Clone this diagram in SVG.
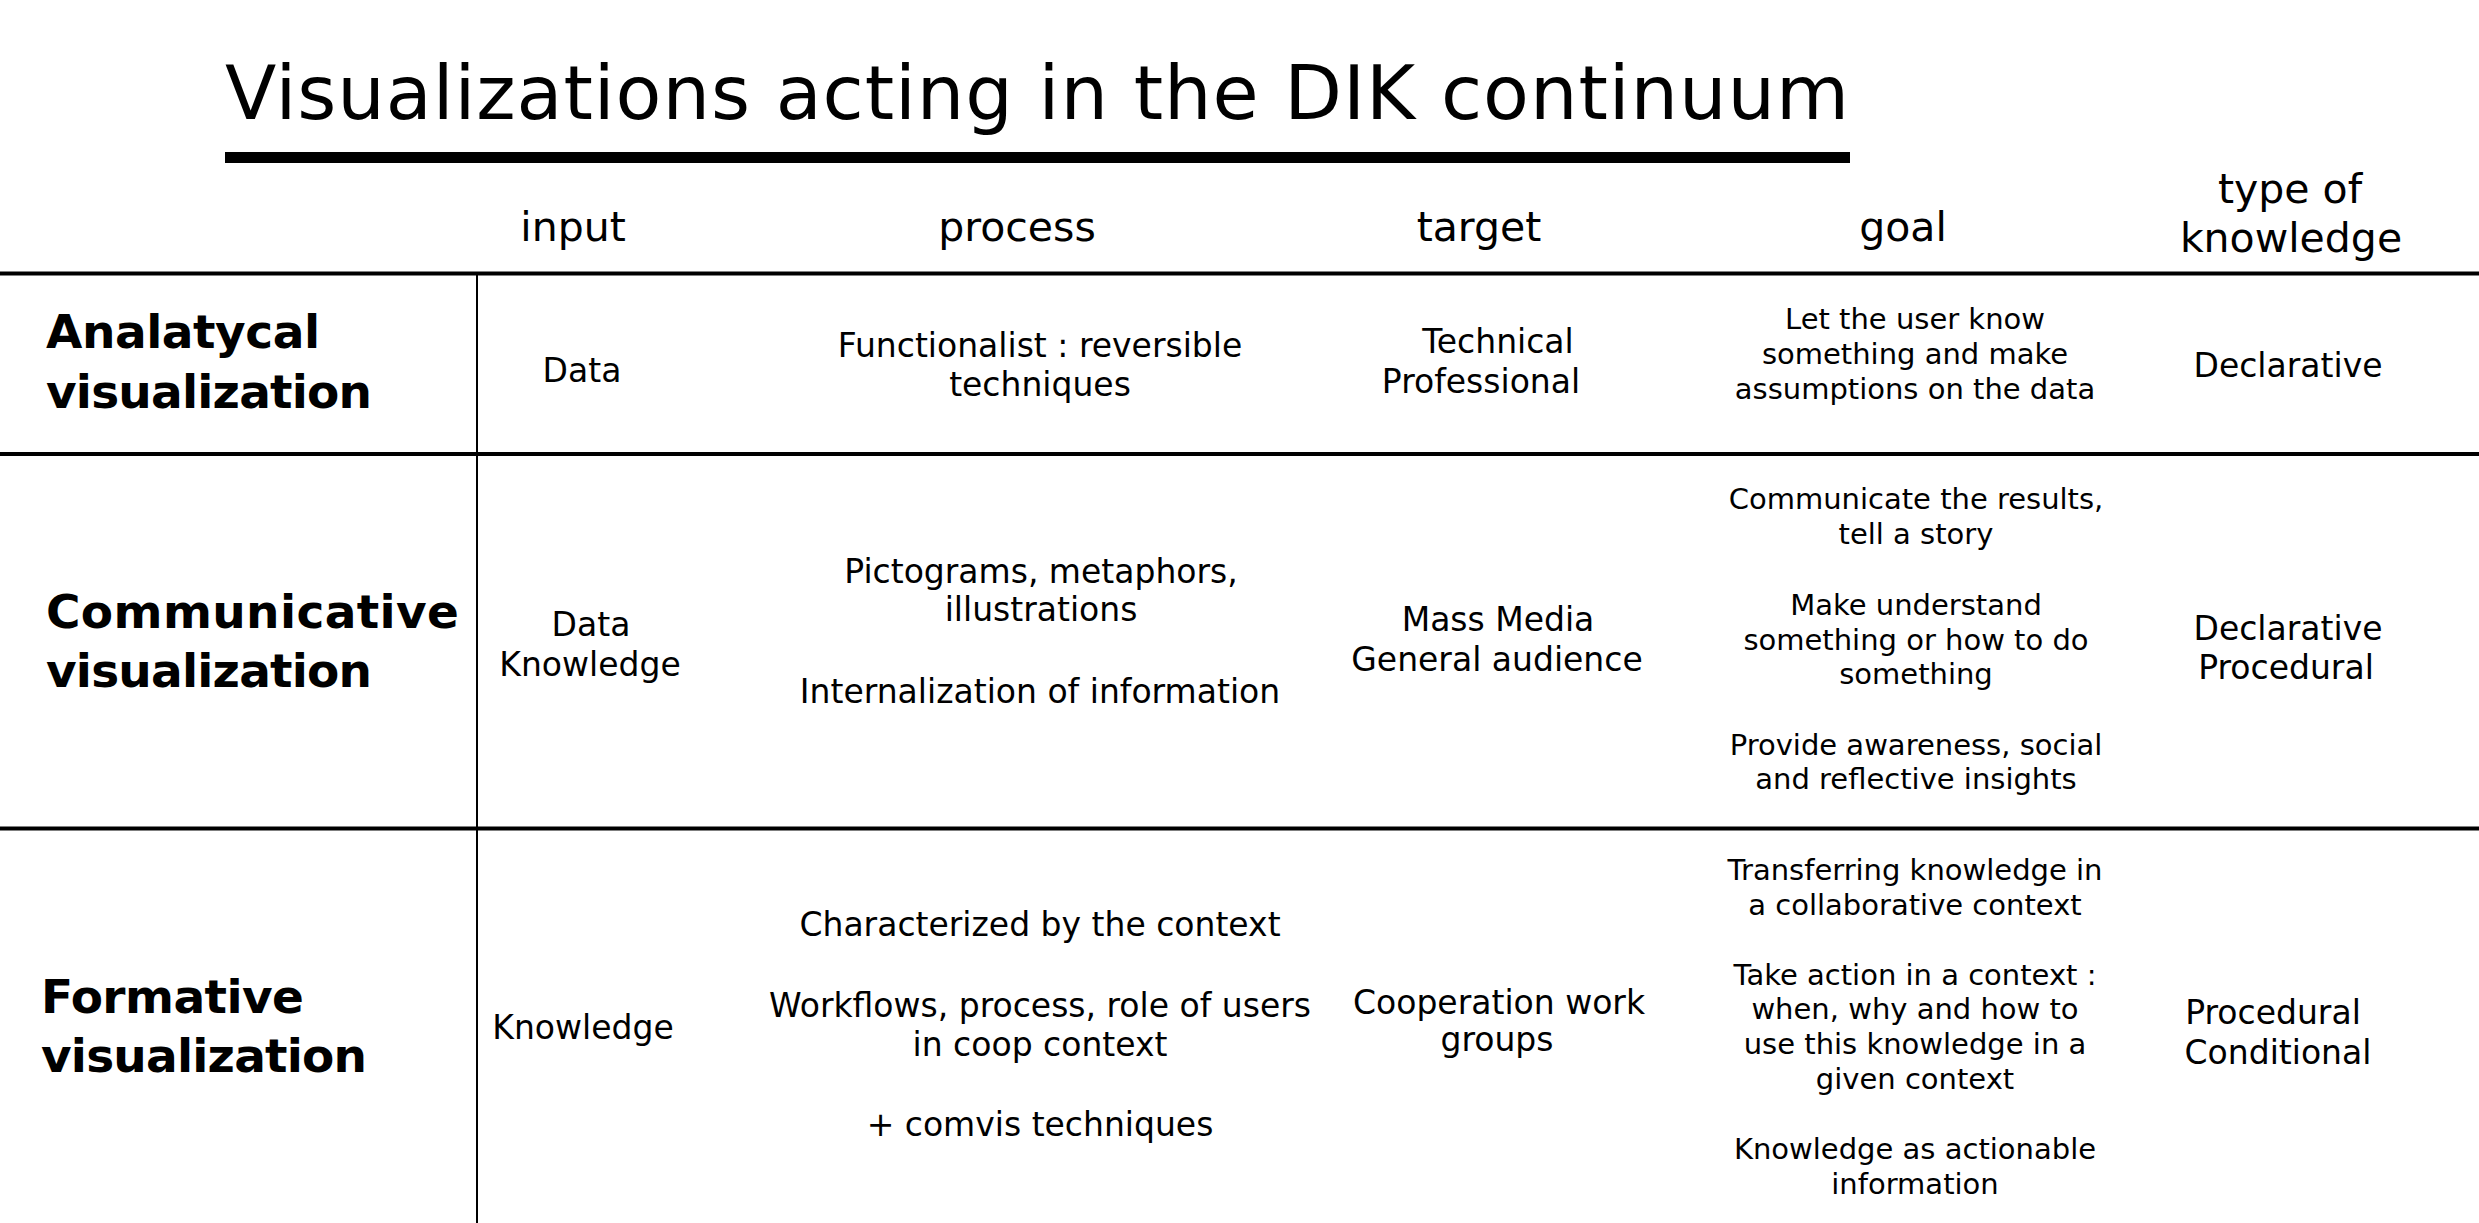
<svg xmlns="http://www.w3.org/2000/svg" width="2479" height="1223" viewBox="0 0 2479 1223">
<style>
text{font-family:"DejaVu Sans","Liberation Sans",sans-serif;fill:#000}
.title{font-size:75px}
.hd{font-size:41px;text-anchor:middle}
.lbl{font-size:47px;font-weight:bold}
.c{font-size:33px;text-anchor:middle}
.g{font-size:29px;text-anchor:middle}
.hl{stroke:#000;stroke-width:4}
.vl{stroke:#000;stroke-width:2}
</style>
<rect width="2479" height="1223" fill="#fff"/>
<g id="title">
<text class="title" x="225" y="119" textLength="1624">Visualizations acting in the DIK continuum</text>
<rect x="225" y="152" width="1625" height="11" fill="#000"/>
</g>
<g id="header">
<text class="hd" x="573" y="241">input</text>
<text class="hd" x="1017" y="241">process</text>
<text class="hd" x="1479" y="241">target</text>
<text class="hd" x="1903" y="241">goal</text>
<text class="hd" x="2290" y="203">type of</text>
<text class="hd" x="2291" y="252">knowledge</text>
</g>
<g id="grid">
<line class="hl" x1="0" y1="273.5" x2="2479" y2="273.5"/>
<line class="hl" x1="0" y1="454" x2="2479" y2="454"/>
<line class="hl" x1="0" y1="828.5" x2="2479" y2="828.5"/>
<line class="vl" x1="477" y1="273" x2="477" y2="1223"/>
</g>
<g id="row-analytical">
<text class="lbl" x="46" y="348" textLength="274">Analatycal</text>
<text class="lbl" x="46" y="408" textLength="326">visualization</text>
</g>
<g id="analytical-input"><text class="c" x="582" y="382">Data</text></g>
<g id="analytical-process">
<text class="c" x="1040" y="357">Functionalist : reversible</text>
<text class="c" x="1040" y="396">techniques</text>
</g>
<g id="analytical-target">
<text class="c" x="1498" y="353">Technical</text>
<text class="c" x="1481" y="393">Professional</text>
</g>
<g id="analytical-goal">
<text class="g" x="1915" y="329">Let the user know</text>
<text class="g" x="1915" y="364">something and make</text>
<text class="g" x="1915" y="399">assumptions on the data</text>
</g>
<g id="analytical-type"><text class="c" x="2288" y="377">Declarative</text></g>
<g id="row-communicative">
<text class="lbl" x="46" y="628" textLength="413">Communicative</text>
<text class="lbl" x="46" y="687" textLength="326">visualization</text>
</g>
<g id="communicative-input">
<text class="c" x="591" y="636">Data</text>
<text class="c" x="590" y="676">Knowledge</text>
</g>
<g id="communicative-process">
<text class="c" x="1041" y="583">Pictograms, metaphors,</text>
<text class="c" x="1041" y="621">illustrations</text>
<text class="c" x="1040" y="703">Internalization of information</text>
</g>
<g id="communicative-target">
<text class="c" x="1498" y="631">Mass Media</text>
<text class="c" x="1497" y="671">General audience</text>
</g>
<g id="communicative-goal">
<text class="g" x="1916" y="509">Communicate the results,</text>
<text class="g" x="1916" y="544">tell a story</text>
<text class="g" x="1916" y="615">Make understand</text>
<text class="g" x="1916" y="650">something or how to do</text>
<text class="g" x="1916" y="684">something</text>
<text class="g" x="1916" y="755">Provide awareness, social</text>
<text class="g" x="1916" y="789">and reflective insights</text>
</g>
<g id="communicative-type">
<text class="c" x="2288" y="640">Declarative</text>
<text class="c" x="2286" y="679">Procedural</text>
</g>
<g id="row-formative">
<text class="lbl" x="41" y="1013" textLength="263">Formative</text>
<text class="lbl" x="41" y="1072" textLength="326">visualization</text>
</g>
<g id="formative-input"><text class="c" x="583" y="1039">Knowledge</text></g>
<g id="formative-process">
<text class="c" x="1040" y="936">Characterized by the context</text>
<text class="c" x="1040" y="1017">Workflows, process, role of users</text>
<text class="c" x="1040" y="1056">in coop context</text>
<text class="c" x="1040" y="1136">+ comvis techniques</text>
</g>
<g id="formative-target">
<text class="c" x="1499" y="1014">Cooperation work</text>
<text class="c" x="1497" y="1051">groups</text>
</g>
<g id="formative-goal">
<text class="g" x="1915" y="880">Transferring knowledge in</text>
<text class="g" x="1915" y="915">a collaborative context</text>
<text class="g" x="1915" y="985">Take action in a context :</text>
<text class="g" x="1915" y="1019">when, why and how to</text>
<text class="g" x="1915" y="1054">use this knowledge in a</text>
<text class="g" x="1915" y="1089">given context</text>
<text class="g" x="1915" y="1159">Knowledge as actionable</text>
<text class="g" x="1915" y="1194">information</text>
</g>
<g id="formative-type">
<text class="c" x="2273" y="1024">Procedural</text>
<text class="c" x="2278" y="1064">Conditional</text>
</g>
</svg>
